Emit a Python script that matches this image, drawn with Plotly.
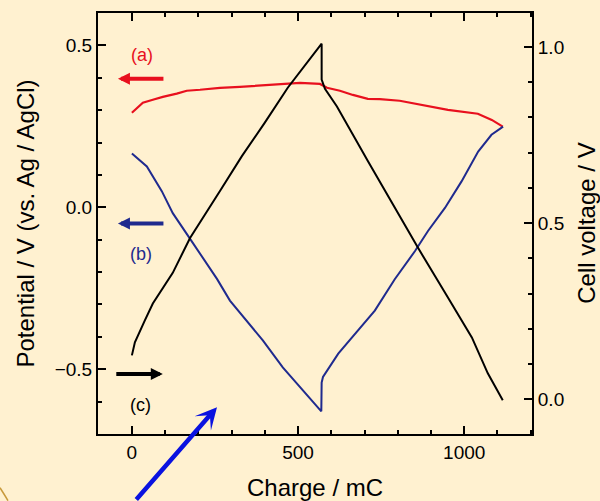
import plotly.graph_objects as go

# ---- data ----
charge_a = [0, 15, 33, 63, 93, 135, 165, 205, 265, 325, 406, 475, 506, 566, 587, 626, 665, 710, 746,
            806, 873, 951, 1041, 1083, 1116]
potential_a = [0.292, 0.307, 0.323, 0.332, 0.341, 0.351, 0.360, 0.363, 0.369, 0.372, 0.378, 0.384, 0.384,
               0.381, 0.369, 0.360, 0.347, 0.335, 0.334, 0.329, 0.317, 0.301, 0.289, 0.270, 0.249]

charge_b = [0, 45, 90, 123, 165, 214, 256, 295, 346, 394, 454, 515, 566, 570, 571, 575, 621, 681, 731,
            791, 852, 891, 942, 992, 1042, 1082, 1117]
potential_b = [0.166, 0.126, 0.050, -0.018, -0.082, -0.156, -0.221, -0.288, -0.350, -0.411, -0.494,
               -0.565, -0.626, -0.630, -0.541, -0.524, -0.452, -0.380, -0.319, -0.222, -0.135, -0.073,
               -0.002, 0.080, 0.172, 0.224, 0.249]

charge_c = [0, 9, 39, 63, 123, 175, 265, 331, 400, 469, 571, 571, 581, 617, 710, 815, 861, 951, 1023,
            1071, 1116]
voltage_c = [0.125, 0.162, 0.224, 0.272, 0.359, 0.458, 0.591, 0.690, 0.785, 0.884, 1.009, 0.907, 0.881,
             0.831, 0.676, 0.506, 0.430, 0.289, 0.176, 0.074, -0.002]

x_tickvals = [0, 500, 1000]
y_tickvals = [-0.5, 0.0, 0.5]
y2_tickvals = [0.0, 0.5, 1.0]

RED = "#E8101E"
NAVY = "#1F2A8E"
BG = "#FFF1D0"
FONT = "Liberation Sans, Arial, sans-serif"

fig = go.Figure()
fig.add_trace(go.Scatter(x=charge_a, y=potential_a, mode="lines", line=dict(color=RED, width=2.2),
                         yaxis="y", showlegend=False))
fig.add_trace(go.Scatter(x=charge_b, y=potential_b, mode="lines", line=dict(color=NAVY, width=2),
                         yaxis="y", showlegend=False))
fig.add_trace(go.Scatter(x=charge_c, y=voltage_c, mode="lines", line=dict(color="black", width=2),
                         yaxis="y2", showlegend=False))

axis_common = dict(showline=True, linecolor="black", linewidth=2, ticks="inside", ticklen=8,
                   tickwidth=2, tickcolor="black", showgrid=False, zeroline=False,
                   tickfont=dict(family=FONT, size=19, color="black"))

fig.update_layout(
    width=600, height=501,
    margin=dict(l=98, r=68, t=11, b=67),
    paper_bgcolor=BG, plot_bgcolor=BG,
    xaxis=dict(range=[-102, 1204], tickvals=x_tickvals, mirror="ticks",
               minor=dict(dtick=100, tick0=0, ticklen=4, ticks="inside", tickcolor="black", tickwidth=1.5),
               **axis_common),
    yaxis=dict(range=[-0.70, 0.60], tickvals=y_tickvals, tickformat=".1f",
               minor=dict(dtick=0.1, tick0=0, ticklen=4, ticks="inside", tickcolor="black", tickwidth=1.5),
               **axis_common),
    yaxis2=dict(range=[-0.098, 1.096], tickvals=y2_tickvals, tickformat=".1f", overlaying="y",
                side="right", anchor="x",
                minor=dict(dtick=0.1, tick0=0, ticklen=4, ticks="inside", tickcolor="black", tickwidth=1.5),
                **axis_common),
)

annots = []
# axis titles
annots.append(dict(text="Charge / mC", xref="paper", yref="paper", x=0.5, y=-0.128,
                   xanchor="center", yanchor="middle", showarrow=False,
                   font=dict(family=FONT, size=24, color="black")))
annots.append(dict(text="Potential / V (vs. Ag / AgCl)", xref="paper", yref="paper", x=-0.168, y=0.5,
                   xanchor="center", yanchor="middle", textangle=-90, showarrow=False,
                   font=dict(family=FONT, size=24, color="black")))
annots.append(dict(text="Cell voltage / V", xref="paper", yref="paper", x=1.125, y=0.5,
                   xanchor="center", yanchor="middle", textangle=-90, showarrow=False,
                   font=dict(family=FONT, size=24, color="black")))
# labels
annots.append(dict(text="(a)", x=30, y=0.470, xref="x", yref="y", showarrow=False,
                   font=dict(family=FONT, size=18, color=RED)))
annots.append(dict(text="(b)", x=27, y=-0.143, xref="x", yref="y", showarrow=False,
                   font=dict(family=FONT, size=18, color=NAVY)))
annots.append(dict(text="(c)", x=27, y=-0.610, xref="x", yref="y", showarrow=False,
                   font=dict(family=FONT, size=18, color="black")))
# arrows
annots.append(dict(text="", x=-42, y=0.397, xref="x", yref="y", ax=47, ay=0, showarrow=True,
                   arrowhead=2, arrowwidth=4, arrowsize=0.6, arrowcolor=RED))
annots.append(dict(text="", x=-42, y=-0.050, xref="x", yref="y", ax=47, ay=0, showarrow=True,
                   arrowhead=2, arrowwidth=4, arrowsize=0.6, arrowcolor=NAVY))
annots.append(dict(text="", x=93, y=-0.515, xref="x", yref="y", ax=-48, ay=0, showarrow=True,
                   arrowhead=2, arrowwidth=4, arrowsize=0.6, arrowcolor="black"))
annots.append(dict(text="", x=0.2742, y=0.0638, xref="paper", yref="paper", ax=-82, ay=100,
                   showarrow=True, arrowhead=3, arrowwidth=4.5, arrowsize=0.8, arrowcolor="#0A12E0"))
fig.update_layout(annotations=annots)

fig.add_shape(type="path", xref="paper", yref="paper",
              path="M -0.2258,-0.1277 Q -0.215,-0.145 -0.2074,-0.1584",
              line=dict(color="#C89A3C", width=1.5))

fig.write_html("out.html")
